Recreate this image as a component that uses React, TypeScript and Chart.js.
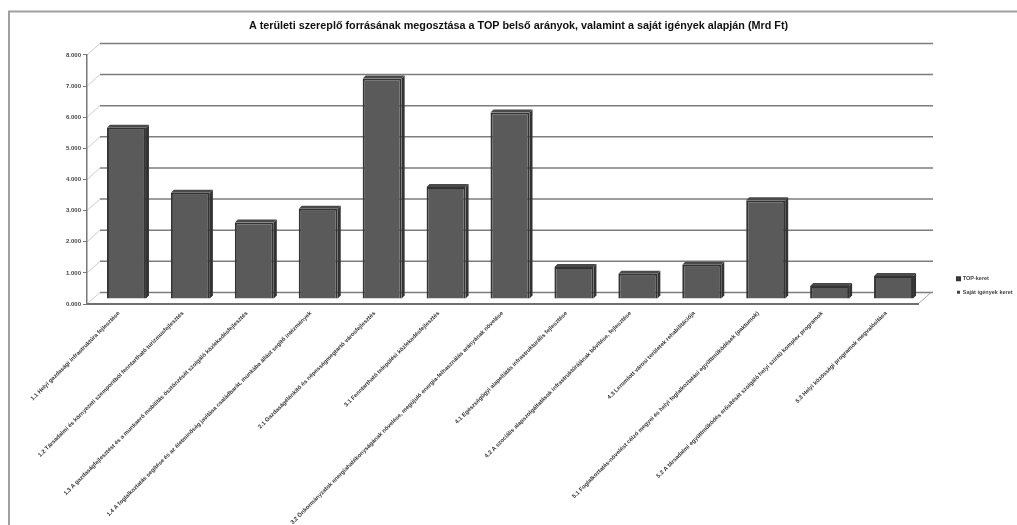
import React, { useEffect, useRef } from "react";
import { Chart, registerables } from "chart.js";

Chart.register(...registerables);

const TITLE = "A területi szereplő forrásának megosztása a TOP belső arányok, valamint a saját igények alapján (Mrd Ft)";
const CATEGORIES = [
  "1.1 Helyi gazdasági infrastruktúra fejlesztése",
  "1.2 Társadalmi és környezeti szempontból fenntartható turizmusfejlesztés",
  "1.3 A gazdaságfejlesztést és a munkaerő mobilitás ösztönzését szolgáló közlekedésfejlesztés",
  "1.4 A foglalkoztatás segítése és az életminőség javítása családbarát, munkába állást segítő intézmények",
  "2.1 Gazdaságélénkítő és népességmegtartó városfejlesztés",
  "3.1 Fenntartható települési közlekedésfejlesztés",
  "3.2 Önkormányzatok energiahatékonyságának növelése, megújuló energia-felhasználás arányának növelése",
  "4.1 Egészségügyi alapellátás infrastrukturális fejlesztése",
  "4.2 A szociális alapszolgáltatások infrastruktúrájának bővítése, fejlesztése",
  "4.3 Leromlott városi területek rehabilitációja",
  "5.1 Foglalkoztatás-növelést célzó megyei és helyi foglalkoztatási együttműködések (paktumok)",
  "5.2 A társadalmi együttműködés erősítését szolgáló helyi szintű komplex programok",
  "5.3 Helyi közösségi programok megvalósítása",
];
const TOP_KERET = [5.5, 3.41, 2.46, 2.9, 7.08, 3.6, 5.99, 1.03, 0.81, 1.1, 3.17, 0.42, 0.74];
const SAJAT_KERET = [0, 0, 0, 0, 0, 0, 0, 0, 0, 0, 0, 0, 0];
const SERIES_NAMES = ["TOP-keret", "Saját igények keret"];

const FONT = "'Liberation Sans', sans-serif";
const W = 1017;
const H = 525;
const LEGEND_W = 62;
const AREA_RIGHT = 918;
const LEGEND_LEFT = 949;
const BAR_SHIFT = { x: 7.5, y: -5 };
const WALL = { x: 13, y: -11.5 };
const DEPTH = 3;

const wallPlugin = {
  id: "wall",
  beforeLayout(chart: any) {
    const l = chart.legend;
    if (l && !l.__wrapped) {
      const fit = l.fit;
      l.fit = function () {
        fit.call(this);
        this.width = LEGEND_W;
      };
      l.__wrapped = true;
    }
  },
  beforeDraw(chart: any) {
    const { ctx, chartArea: a, scales } = chart;
    ctx.save();
    ctx.strokeStyle = "#a0a0a0";
    ctx.lineWidth = 2;
    ctx.beginPath();
    ctx.moveTo(9, H + 2);
    ctx.lineTo(9, 11.5);
    ctx.lineTo(W + 2, 11.5);
    ctx.stroke();

    const y = scales.y;
    y.ticks.forEach((t: any) => {
      const py = y.getPixelForValue(t.value);
      ctx.strokeStyle = "#7d7d7d";
      ctx.lineWidth = 1.5;
      ctx.beginPath();
      ctx.moveTo(a.left + WALL.x, py + WALL.y);
      ctx.lineTo(a.right + WALL.x + 2, py + WALL.y);
      ctx.stroke();
      ctx.strokeStyle = "#cccccc";
      ctx.lineWidth = 1;
      ctx.beginPath();
      ctx.moveTo(a.left, py);
      ctx.lineTo(a.left + WALL.x, py + WALL.y);
      ctx.stroke();
    });
    const by = y.getPixelForValue(0);
    ctx.strokeStyle = "#a8a8a8";
    ctx.beginPath();
    ctx.moveTo(a.right, by);
    ctx.lineTo(a.right + WALL.x, by + WALL.y);
    ctx.stroke();
    ctx.restore();

    // title and legend sit where the reference has them
    const t = chart.titleBlock;
    t.left = 248;
    t.right = 789;
    const l = chart.legend;
    l.left = LEGEND_LEFT;
    l.right = W;
    l.top = 268;
    l.bottom = 400;
  },
  beforeDatasetsDraw(chart: any) {
    chart.ctx.save();
    chart.ctx.translate(BAR_SHIFT.x, BAR_SHIFT.y);
  },
  afterDatasetsDraw(chart: any) {
    const { ctx } = chart;
    chart.getDatasetMeta(0).data.forEach((b: any) => {
      const p = b.getProps(["x", "y", "base", "width"], true);
      const r = p.x + p.width / 2;
      const l = p.x - p.width / 2;
      ctx.fillStyle = "#333333";
      ctx.beginPath();
      ctx.moveTo(r, p.y);
      ctx.lineTo(r + DEPTH, p.y - DEPTH);
      ctx.lineTo(r + DEPTH, p.base - DEPTH);
      ctx.lineTo(r, p.base);
      ctx.closePath();
      ctx.fill();
      ctx.fillStyle = "#4a4a4a";
      ctx.beginPath();
      ctx.moveTo(l, p.y);
      ctx.lineTo(l + DEPTH, p.y - DEPTH);
      ctx.lineTo(r + DEPTH, p.y - DEPTH);
      ctx.lineTo(r, p.y);
      ctx.closePath();
      ctx.fill();
    });
    ctx.restore();
  },
};

export default function App() {
  const ref = useRef<HTMLCanvasElement>(null);
  useEffect(() => {
    const chart = new Chart(ref.current as HTMLCanvasElement, {
      type: "bar",
      data: {
        labels: CATEGORIES,
        datasets: [
          {
            label: SERIES_NAMES[0],
            data: TOP_KERET,
            backgroundColor: "#5a5a5a",
            borderColor: "#333333",
            borderWidth: 2,
          },
          {
            label: SERIES_NAMES[1],
            data: SAJAT_KERET,
            backgroundColor: "#444444",
            borderWidth: 0,
          },
        ],
      },
      options: {
        responsive: false,
        animation: false,
        devicePixelRatio: 1,
        layout: { padding: { left: 0, right: W - AREA_RIGHT - LEGEND_W, top: 0, bottom: 0 } },
        datasets: { bar: { barPercentage: 0.61, categoryPercentage: 1 } },
        plugins: {
          title: {
            display: true,
            text: TITLE,
            color: "#111111",
            font: { family: FONT, size: 10.8, weight: "bold" },
            padding: { top: 20, bottom: 22 },
          },
          legend: {
            display: true,
            position: "right",
            align: "start",
            labels: {
              color: "#444444",
              font: { family: FONT, size: 5.5, weight: "bold" },
              boxWidth: 3,
              boxHeight: 3,
              padding: 8,
            },
          },
          tooltip: { enabled: false },
        },
        scales: {
          x: {
            stacked: true,
            afterFit(s: any) {
              s.height = H - 304;
            },
            grid: { display: false },
            border: { display: true, color: "#707070", width: 2 },
            ticks: {
              autoSkip: false,
              minRotation: 45,
              maxRotation: 45,
              padding: -2,
              color: "#333333",
              font: { family: FONT, size: 5.8, weight: "bold" },
            },
          },
          y: {
            stacked: true,
            min: 0,
            max: 8,
            afterFit(s: any) {
              s.width = 87;
            },
            grid: { drawOnChartArea: false, tickLength: 4, color: "#777777" },
            border: { display: true, color: "#777777", width: 1.5 },
            ticks: {
              stepSize: 1,
              padding: 2,
              color: "#444444",
              font: { family: FONT, size: 6, weight: "bold" },
              callback: (v: any) => Number(v).toFixed(3),
            },
          },
        },
      },
      plugins: [wallPlugin],
    } as any);
    return () => chart.destroy();
  }, []);
  return (
    <div style={{ position: "fixed", left: 0, top: 0, width: W, height: H, background: "#fff" }}>
      <canvas ref={ref} width={W} height={H} style={{ display: "block", filter: "blur(0.4px)" }} />
    </div>
  );
}
